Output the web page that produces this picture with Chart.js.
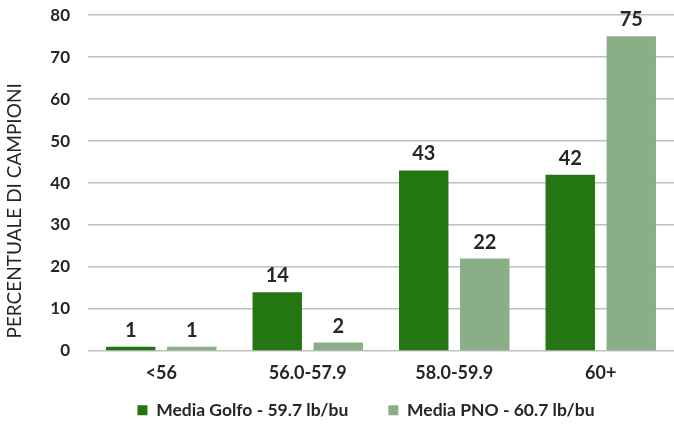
<!DOCTYPE html>
<html>
<head>
<meta charset="utf-8">
<script src="https://cdn.jsdelivr.net/npm/chart.js@4/dist/chart.umd.min.js"></script>
<style>
  html, body { margin: 0; padding: 0; background: #fff; }
  #wrap { width: 674px; height: 424px; }
</style>
</head>
<body>
<div id="wrap"><canvas id="chart"></canvas></div>
<script>
const categories = ['<56', '56.0-57.9', '58.0-59.9', '60+'];
const golfo = [1, 14, 43, 42];
const pno = [1, 2, 22, 75];
const seriesNames = ['Media Golfo - 59.7 lb/bu', 'Media PNO - 60.7 lb/bu'];
const yTitle = 'PERCENTUALE DI CAMPIONI';

const FONT = 'Lato, "Open Sans", sans-serif';
const TEXT = '#262626';

// draw the number above each bar, plus the y title (it sits lower than the axis middle)
const valueLabels = {
  id: 'valueLabels',
  afterDatasetsDraw(chart) {
    const ctx = chart.ctx;
    ctx.save();
    ctx.font = 'bold 20px ' + FONT;
    ctx.fillStyle = TEXT;
    ctx.textAlign = 'center';
    ctx.textBaseline = 'alphabetic';
    chart.data.datasets.forEach((ds, i) => {
      chart.getDatasetMeta(i).data.forEach((bar, j) => {
        ctx.fillText(ds.data[j], bar.x, bar.y - 10);
      });
    });
    ctx.translate(15, chart.chartArea.bottom - 140);
    ctx.rotate(-Math.PI / 2);
    ctx.font = '19px ' + FONT;
    ctx.textBaseline = 'middle';
    ctx.fillText(yTitle, 0, 0);
    ctx.restore();
  }
};

// the legend needs wide gaps between items but a tight row, so move it after layout
const legendShift = {
  id: 'legendShift',
  afterLayout(chart) {
    chart.legend.left -= 30;
    chart.legend.top -= 33;
  }
};

new Chart(document.getElementById('chart'), {
  type: 'bar',
  data: {
    labels: categories,
    datasets: [
      { label: seriesNames[0], data: golfo, backgroundColor: '#237612' },
      { label: seriesNames[1], data: pno, backgroundColor: '#8aae88' }
    ]
  },
  options: {
    responsive: true,
    maintainAspectRatio: false,
    animation: false,
    categoryPercentage: 0.833,
    barPercentage: 0.81,
    layout: { padding: { top: 0, right: 0, left: 0, bottom: -38 } },
    scales: {
      x: {
        grid: { display: false, drawTicks: false },
        border: { display: false },
        ticks: { color: TEXT, font: { family: FONT, size: 18, weight: 'bold' }, padding: 11 }
      },
      y: {
        min: 0,
        max: 80,
        ticks: { stepSize: 10, color: TEXT, font: { family: FONT, size: 17, weight: 'bold' }, padding: 5 },
        grid: { color: '#bfbfbf', drawTicks: true, tickLength: 13, tickColor: 'rgba(0,0,0,0)', lineWidth: 1.5 },
        border: { display: false },
        afterFit(scale) { scale.width = 88; }
      }
    },
    plugins: {
      legend: {
        position: 'bottom',
        fullSize: false,
        labels: {
          boxWidth: 10,
          boxHeight: 10,
          padding: 40,
          color: TEXT,
          font: { family: FONT, size: 17.5, weight: 'bold' }
        }
      },
      tooltip: { enabled: false }
    }
  },
  plugins: [valueLabels, legendShift]
});
</script>
</body>
</html>
